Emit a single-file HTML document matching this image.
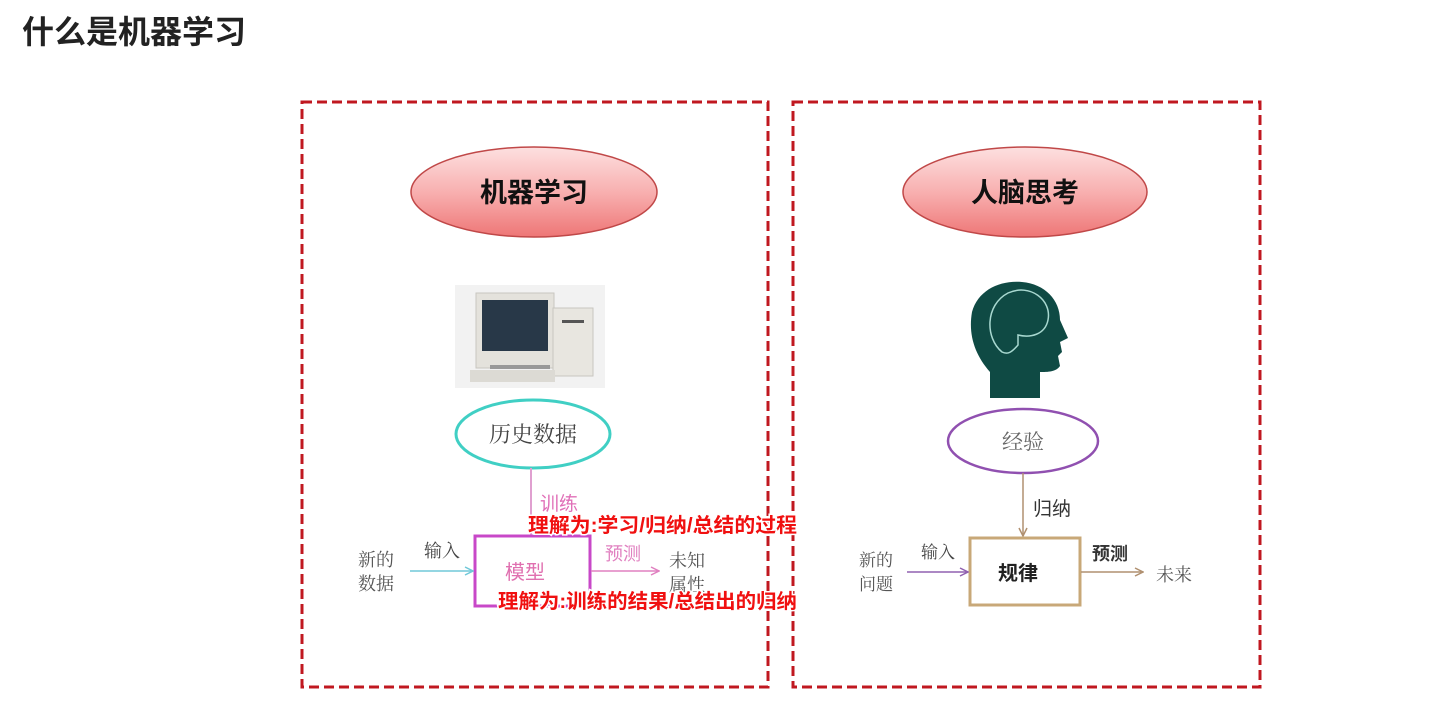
<!DOCTYPE html>
<html><head><meta charset="utf-8"><style>
html,body{margin:0;padding:0;background:#fff;width:1433px;height:728px;overflow:hidden}
svg{display:block}
text{font-family:"Liberation Sans","Noto Sans CJK SC",sans-serif}
.s{font-family:"Liberation Serif","Noto Serif CJK SC",serif}
</style></head><body>
<svg width="1433" height="728" viewBox="0 0 1433 728" xmlns="http://www.w3.org/2000/svg">
<defs>
<linearGradient id="pg" x1="0" y1="0" x2="0" y2="1">
<stop offset="0" stop-color="#fde0e0"/><stop offset="0.5" stop-color="#f8b0b0"/><stop offset="1" stop-color="#ee7676"/>
</linearGradient>
<marker id="ac" markerWidth="10" markerHeight="10" refX="9" refY="5" orient="auto" markerUnits="userSpaceOnUse"><path d="M1,1 L9,5 L1,9" fill="none" stroke="#70c8d8" stroke-width="1.5"/></marker>
<marker id="ap" markerWidth="10" markerHeight="10" refX="9" refY="5" orient="auto" markerUnits="userSpaceOnUse"><path d="M1,1 L9,5 L1,9" fill="none" stroke="#e080c0" stroke-width="1.5"/></marker>
<marker id="av" markerWidth="10" markerHeight="10" refX="9" refY="5" orient="auto" markerUnits="userSpaceOnUse"><path d="M1,1 L9,5 L1,9" fill="none" stroke="#9060b0" stroke-width="1.5"/></marker>
<marker id="ab" markerWidth="10" markerHeight="10" refX="9" refY="5" orient="auto" markerUnits="userSpaceOnUse"><path d="M1,1 L9,5 L1,9" fill="none" stroke="#b09070" stroke-width="1.5"/></marker>
</defs>

<text x="22" y="43" font-size="32" font-weight="bold" fill="#222">什么是机器学习</text>

<rect x="302" y="102" width="466" height="585" fill="none" stroke="#c01820" stroke-width="3" stroke-dasharray="10,5"/>
<rect x="793" y="102" width="467" height="585" fill="none" stroke="#c01820" stroke-width="3" stroke-dasharray="10,5"/>

<ellipse cx="534" cy="192" rx="123" ry="45" fill="url(#pg)" stroke="#c04848" stroke-width="1.5"/>
<text x="534" y="202" font-size="27" font-weight="bold" fill="#111" text-anchor="middle">机器学习</text>
<ellipse cx="1025" cy="192" rx="122" ry="45" fill="url(#pg)" stroke="#c04848" stroke-width="1.5"/>
<text x="1025" y="202" font-size="27" font-weight="bold" fill="#111" text-anchor="middle">人脑思考</text>

<rect x="455" y="285" width="150" height="103" fill="#f2f2f2"/>
<rect x="476" y="293" width="78" height="75" fill="#e4e2dc" stroke="#c8c6c0"/>
<rect x="482" y="300" width="66" height="51" fill="#283848"/>
<rect x="553" y="308" width="40" height="68" fill="#e8e6e0" stroke="#c8c6c0"/>
<rect x="562" y="320" width="22" height="3" fill="#555"/>
<rect x="470" y="370" width="85" height="12" fill="#dcdad4"/>
<rect x="490" y="365" width="60" height="4" fill="#999"/>

<ellipse cx="533" cy="434" rx="77" ry="34" fill="#fff" stroke="#40cfc4" stroke-width="3"/>
<text class="s" x="533" y="442" font-size="22" fill="#444" text-anchor="middle">历史数据</text>
<line x1="531" y1="468" x2="531" y2="535" stroke="#e0a0d0" stroke-width="2"/>
<text x="540" y="510" font-size="19" fill="#e070b8">训练</text>
<rect x="475" y="536" width="115" height="70" fill="#fff" stroke="#c848c8" stroke-width="3"/>
<text x="525" y="579" font-size="20" fill="#e070b0" text-anchor="middle">模型</text>
<line x1="410" y1="571" x2="473" y2="571" stroke="#70c8d8" stroke-width="1.5" marker-end="url(#ac)"/>
<text class="s" x="424" y="557" font-size="18" fill="#444">输入</text>
<text class="s" x="358" y="566" font-size="18" fill="#555">新的</text>
<text class="s" x="358" y="590" font-size="18" fill="#555">数据</text>
<line x1="591" y1="571" x2="659" y2="571" stroke="#e080c0" stroke-width="1.5" marker-end="url(#ap)"/>
<text x="605" y="560" font-size="18" fill="#e080c0">预测</text>
<text class="s" x="669" y="567" font-size="18" fill="#555">未知</text>
<text class="s" x="669" y="591" font-size="18" fill="#555">属性</text>

<g font-size="20" font-weight="bold" fill="#f01010" stroke="#fff" stroke-width="3" paint-order="stroke">
<text x="528" y="532" textLength="269" lengthAdjust="spacingAndGlyphs">理解为:学习/归纳/总结的过程</text>
<text x="498" y="608" textLength="299" lengthAdjust="spacingAndGlyphs">理解为:训练的结果/总结出的归纳</text>
</g>

<path d="M990,398 L990,372 C975,355 968,335 972,312 C978,290 1000,280 1022,282 C1045,284 1060,300 1060,320 L1068,338 L1060,342 L1062,352 L1058,356 L1060,366 C1056,372 1048,372 1040,372 L1040,398 Z" fill="#0f4a44"/>
<path d="M1002,352 C985,338 985,305 1008,293 C1030,283 1052,300 1048,320 C1045,335 1030,338 1018,335 L1018,345 C1012,352 1008,355 1002,352 Z" fill="none" stroke="#a8d8d0" stroke-width="1.5"/>

<ellipse cx="1023" cy="441" rx="75" ry="32" fill="#fff" stroke="#9050b0" stroke-width="2.5"/>
<text class="s" x="1023" y="449" font-size="21" fill="#666" text-anchor="middle">经验</text>
<line x1="1023" y1="473" x2="1023" y2="536" stroke="#b09070" stroke-width="1.5" marker-end="url(#ab)"/>
<text x="1033" y="515" font-size="19" fill="#333">归纳</text>
<rect x="970" y="538" width="110" height="67" fill="#fff" stroke="#c8a878" stroke-width="3"/>
<text x="1018" y="580" font-size="20" font-weight="bold" fill="#222" text-anchor="middle">规律</text>
<line x1="907" y1="572" x2="968" y2="572" stroke="#9060b0" stroke-width="1.5" marker-end="url(#av)"/>
<text class="s" x="921" y="558" font-size="17" fill="#444">输入</text>
<text class="s" x="859" y="566" font-size="17" fill="#555">新的</text>
<text class="s" x="859" y="590" font-size="17" fill="#555">问题</text>
<line x1="1081" y1="572" x2="1143" y2="572" stroke="#b09070" stroke-width="1.5" marker-end="url(#ab)"/>
<text x="1092" y="560" font-size="18" font-weight="bold" fill="#333">预测</text>
<text class="s" x="1156" y="581" font-size="18" fill="#555">未来</text>
</svg>
</body></html>
